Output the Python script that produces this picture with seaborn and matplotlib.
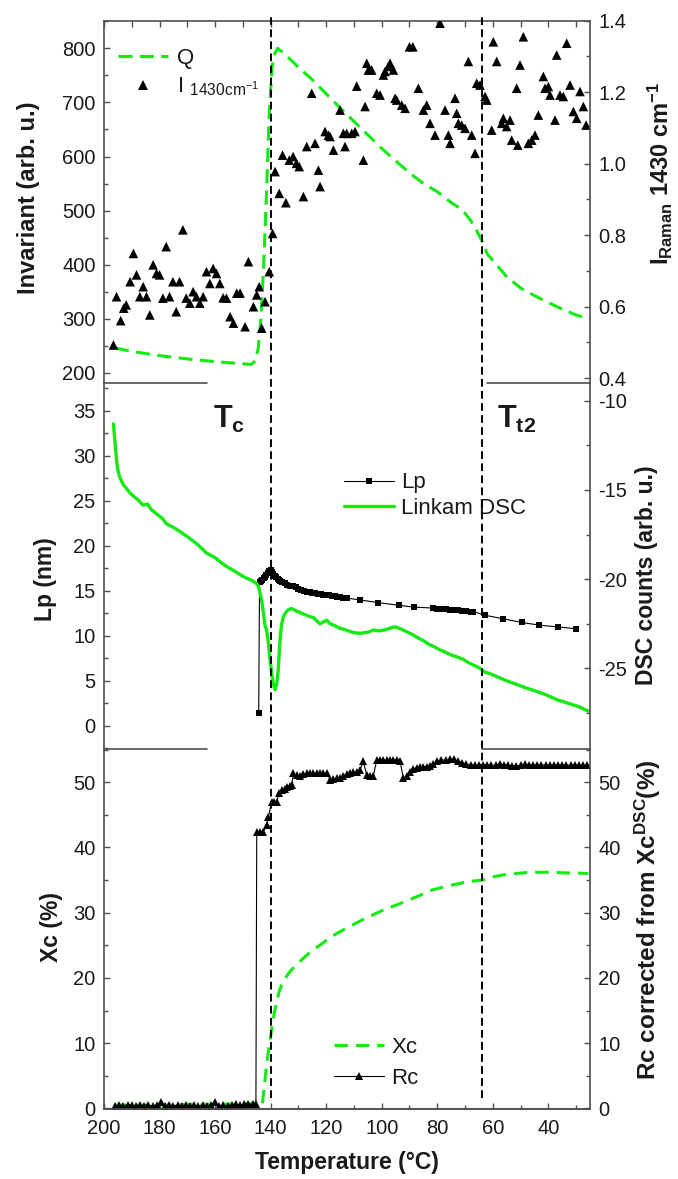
import matplotlib
matplotlib.use("Agg")
import matplotlib.pyplot as plt
import matplotlib.transforms as mtransforms
from matplotlib.lines import Line2D
from matplotlib.ticker import MultipleLocator, FormatStrFormatter
import seaborn as sns

# ---------------- data ----------------
# Panel 1: SAXS invariant Q (left axis) and Raman intensity at 1430 cm-1 (right axis)
q_temp = [196, 190, 180, 170, 160, 150, 147, 145.5, 144.5, 143.5,
          142.5, 141.5, 140.5, 139.5, 138.5, 137.5, 135, 130, 125, 120,
          115, 110, 105, 100, 95, 90, 85, 80, 75, 72,
          70, 68, 66, 64, 62, 60, 55, 50, 45, 40,
          35, 30, 25]
q_val = [246, 240, 232, 226, 221, 217, 216, 222, 245, 300,
         400, 530, 680, 765, 790, 800, 790, 765, 742, 716,
         690, 665, 640, 615, 592, 570, 550, 535, 515, 505,
         495, 482, 465, 445, 420, 408, 378, 357, 343, 330,
         318, 307, 300]

raman_temp = [196.6, 195.5, 194.0, 192.9, 192.0, 190.6, 189.4, 188.3, 187.1, 185.9,
              184.7, 183.5, 182.3, 181.1, 180.0, 178.8, 177.6, 176.4, 175.2, 174.0,
              172.8, 171.6, 170.4, 169.1, 167.9, 166.7, 165.5, 164.3, 163.1, 161.9,
              160.7, 159.5, 158.3, 157.1, 155.9, 154.6, 153.4, 152.2, 151.0, 149.2,
              148.0, 146.2, 145.0, 144.1, 143.2, 142.0, 140.5, 139.3, 138.4, 136.9,
              135.7, 134.5, 133.3, 131.9, 130.7, 129.7, 128.2, 127.0, 125.2, 124.0,
              122.8, 122.2, 120.4, 119.2, 118.6, 117.4, 115.0, 113.8, 113.2, 112.6,
              110.8, 109.6, 109.0, 106.6, 106.0, 105.4, 104.8, 103.6, 101.8, 100.6,
              99.4, 98.8, 97.6, 97.0, 95.8, 95.2, 94.6, 92.8, 91.6, 90.0,
              88.8, 86.8, 85.0, 83.8, 82.6, 80.8, 79.0, 77.2, 76.0, 75.4,
              73.6, 73.0, 72.4, 71.2, 70.0, 68.8, 67.6, 66.4, 65.8, 64.6,
              62.8, 62.2, 60.4, 59.8, 58.6, 56.8, 56.2, 55.0, 53.8, 53.2,
              51.4, 51.0, 50.2, 49.0, 47.2, 46.0, 44.8, 43.6, 41.8, 41.2,
              40.0, 39.4, 37.6, 37.0, 35.8, 34.6, 33.4, 32.2, 31.0, 29.8,
              28.6, 27.4, 26.4]
raman_val = [0.493, 0.628, 0.561, 0.596, 0.605, 0.670, 0.749, 0.689, 0.628, 0.656,
             0.628, 0.577, 0.717, 0.693, 0.689, 0.624, 0.768, 0.628, 0.670, 0.586,
             0.670, 0.815, 0.624, 0.610, 0.642, 0.628, 0.610, 0.628, 0.698, 0.665,
             0.707, 0.693, 0.665, 0.625, 0.624, 0.572, 0.554, 0.638, 0.638, 0.544,
             0.726, 0.600, 0.633, 0.656, 0.540, 0.614, 0.698, 0.805, 0.978, 0.917,
             1.024, 0.891, 1.010, 1.020, 1.001, 0.992, 0.908, 1.048, 1.197, 1.057,
             0.982, 0.936, 1.090, 1.080, 1.076, 1.038, 1.150, 1.085, 1.048, 1.085,
             1.085, 1.090, 1.217, 1.010, 1.160, 1.281, 1.262, 1.262, 1.197, 1.192,
             1.248, 1.258, 1.272, 1.281, 1.262, 1.183, 1.178, 1.164, 1.155, 1.327,
             1.327, 1.211, 1.150, 1.164, 1.113, 1.080, 1.393, 1.150, 1.080, 1.057,
             1.183, 1.141, 1.113, 1.108, 1.099, 1.286, 1.080, 1.029, 1.225, 1.220,
             1.188, 1.178, 1.094, 1.341, 1.286, 1.113, 1.127, 1.104, 1.122, 1.066,
             1.211, 1.052, 1.276, 1.355, 1.057, 1.066, 1.080, 1.136, 1.244, 1.211,
             1.216, 1.192, 1.122, 1.304, 1.192, 1.188, 1.337, 1.220, 1.146, 1.127,
             1.202, 1.160, 1.108]

# Panel 2: long period Lp (left axis) and Linkam DSC signal (right axis)
lp_temp = [144.3, 144.0, 143.5, 143.0, 142.5, 142.0, 141.5, 141.0, 140.5, 140.0,
           139.5, 139.0, 138.5, 138.0, 137.5, 137.0, 136.5, 136.0, 135.0, 134.0,
           133.0, 132.0, 131.0, 130.0, 129.0, 128.0, 127.0, 126.0, 125.0, 124.0,
           123.0, 122.0, 121.0, 120.0, 119.0, 118.0, 117.0, 116.0, 115.0, 114.0,
           112.5, 107.8, 101.2, 93.7, 88.4, 81.5, 80.0, 78.5, 77.0, 75.5,
           74.0, 72.5, 71.0, 69.5, 68.0, 67.0, 62.8, 56.2, 49.6, 43.2,
           36.6, 30.0]
lp_val = [1.4, 16.0, 16.1, 16.2, 16.4, 16.6, 16.8, 17.0, 17.2, 17.3,
          17.1, 16.9, 16.7, 16.5, 16.35, 16.2, 16.1, 16.0, 15.85, 15.7,
          15.6, 15.5, 15.4, 15.25, 15.1, 15.0, 14.9, 14.85, 14.8, 14.75,
          14.7, 14.65, 14.6, 14.55, 14.5, 14.45, 14.4, 14.35, 14.3, 14.25,
          14.2, 14.0, 13.7, 13.4, 13.2, 13.1, 13.0, 13.0, 12.95, 12.9,
          12.9, 12.85, 12.8, 12.8, 12.7, 12.7, 12.3, 11.9, 11.5, 11.2,
          11.0, 10.8]

dsc_temp = [196.6, 196.0, 195.5, 195.0, 194.3, 193.1, 192.0, 190.5, 189.0, 187.5,
            186.0, 184.3, 183.0, 181.0, 179.0, 177.5, 175.0, 172.5, 170.2, 168.0,
            166.0, 163.0, 160.0, 158.0, 155.8, 153.0, 150.5, 148.6, 146.5, 145.0,
            144.4, 143.8, 143.2, 142.6, 142.0, 141.4, 140.8, 140.2, 139.6, 139.0,
            138.4, 137.8, 137.2, 136.8, 136.4, 136.0, 135.4, 134.5, 133.5, 132.5,
            131.8, 130.5, 129.0, 127.5, 126.0, 124.6, 123.0, 122.2, 121.0, 119.8,
            118.6, 117.0, 115.0, 113.8, 112.0, 110.0, 107.8, 106.0, 104.5, 103.0,
            101.0, 99.0, 97.0, 95.2, 93.0, 91.0, 89.0, 87.4, 85.0, 83.0,
            81.0, 79.0, 77.0, 75.0, 73.0, 70.6, 68.5, 66.5, 64.6, 63.0,
            61.0, 58.0, 55.0, 51.4, 48.0, 44.0, 40.6, 37.0, 33.0, 29.0,
            25.6]
dsc_val = [-11.3, -12.4, -13.3, -13.9, -14.3, -14.7, -14.9, -15.2, -15.4, -15.6,
           -15.85, -15.8, -16.1, -16.35, -16.6, -16.9, -17.1, -17.35, -17.6, -17.85,
           -18.1, -18.55, -18.8, -19.05, -19.3, -19.55, -19.8, -19.95, -20.1, -20.25,
           -20.4, -20.8, -21.2, -21.9, -22.6, -22.9, -23.6, -24.5, -25.3, -25.9,
           -26.2, -25.9, -25.0, -23.8, -23.0, -22.5, -22.1, -21.85, -21.7, -21.65,
           -21.7, -21.8, -21.9, -22.0, -22.1, -22.15, -22.4, -22.5, -22.4, -22.3,
           -22.5, -22.6, -22.76, -22.8, -22.9, -23.0, -23.04, -23.0, -22.95, -22.85,
           -22.9, -22.85, -22.75, -22.67, -22.8, -22.95, -23.1, -23.25, -23.45, -23.65,
           -23.8, -23.97, -24.1, -24.25, -24.35, -24.5, -24.7, -24.85, -25.0, -25.2,
           -25.3, -25.5, -25.7, -25.9, -26.1, -26.3, -26.5, -26.75, -26.95, -27.15,
           -27.4]

# Panel 3: crystallinity Xc from DSC (left axis) and corrected Rc (right axis)
xc_temp = [196, 190, 180, 170, 160, 150, 146, 145, 144, 143,
           142.5, 142, 141.5, 141, 140.5, 140, 139.5, 139, 138.5, 138,
           137, 136, 135, 133, 131, 129, 127, 125, 123, 121,
           118.6, 115, 111, 107, 103, 99, 94.6, 90, 86, 82.6,
           78, 74, 70, 68.2, 63.8, 60, 56.2, 52, 46.6, 42,
           38, 34.6, 30, 25.6]
xc_val = [0.5, 0.5, 0.5, 0.6, 0.6, 0.7, 0.8, 0.6, 0.4, 0.5,
          2.5, 4.5, 6.5, 8.2, 9.6, 11.0, 12.5, 13.8, 15.0, 16.0,
          17.8, 19.0, 19.8, 21.0, 21.9, 22.7, 23.5, 24.2, 24.8, 25.4,
          26.2, 27.1, 28.0, 28.9, 29.7, 30.5, 31.2, 32.0, 32.7, 33.4,
          33.9, 34.3, 34.65, 34.8, 35.0, 35.5, 35.8, 36.0, 36.2, 36.2,
          36.2, 36.1, 36.1, 36.0]

rc_temp = [196.0, 194.5, 193.0, 191.5, 190.0, 188.5, 187.0, 185.5, 184.0, 182.5,
           181.0, 179.5, 178.0, 176.5, 175.0, 173.5, 172.0, 170.5, 169.0, 167.5,
           166.0, 164.5, 163.0, 161.5, 160.0, 158.5, 157.0, 155.5, 154.0, 152.5,
           151.0, 149.5, 148.0, 146.5, 145.3,
           145.0, 143.8, 142.6, 141.4, 140.8, 139.6, 138.8, 137.8, 137.0, 136.0,
           135.0, 134.2, 133.2, 132.4, 131.8, 130.6, 129.4, 128.2, 127.0, 125.8,
           124.6, 123.4, 122.2, 121.0, 119.8, 118.6, 117.4, 116.2, 115.0, 113.8,
           112.6, 111.4, 110.2, 109.0, 107.8, 106.6, 105.4, 104.2, 103.0, 101.8,
           100.6, 99.4, 98.2, 97.0, 95.8, 94.6, 93.4, 92.2, 91.0, 89.8,
           88.6, 87.4, 86.2, 85.0, 83.8, 82.6, 81.4,
           80.0, 78.5, 77.0, 75.5, 74.0, 72.5, 71.0, 69.5, 68.0, 66.5,
           65.0, 63.5, 62.0, 60.5, 59.0, 57.5, 56.0, 54.5, 53.0, 51.5,
           50.0, 48.5, 47.0, 45.5, 44.0, 42.5, 41.0, 39.5, 38.0, 36.5,
           35.0, 33.5, 32.0, 30.5, 29.0, 27.5, 26.0]
rc_val = [0.4, 0.5, 0.4, 0.5, 0.5, 0.4, 0.5, 0.4, 0.5, 0.4,
          0.5, 0.9, 0.4, 0.5, 0.4, 0.5, 0.4, 0.5, 0.4, 0.5,
          0.4, 0.5, 0.4, 0.5, 0.9, 0.4, 0.5, 0.4, 0.5, 0.6,
          0.5, 0.6, 0.7, 0.6, 0.7,
          42.4, 42.4, 42.4, 43.5, 44.7, 47.0, 47.0, 47.0, 48.3, 48.8,
          49.0, 49.3, 49.5, 49.6, 51.4, 51.1, 50.9, 51.2, 51.4, 51.4,
          51.4, 51.4, 51.4, 51.4, 51.4, 50.4, 50.5, 50.6, 50.6, 51.0,
          51.3, 51.4, 51.5, 51.6, 51.9, 53.2, 51.1, 51.0, 51.0, 53.4,
          53.4, 53.4, 53.4, 53.4, 53.4, 53.4, 53.3, 50.6, 51.0, 51.6,
          52.1, 52.2, 52.3, 52.4, 52.4, 52.5, 52.8,
          53.2, 53.4, 53.4, 53.5, 53.5, 53.3, 53.0, 52.8, 52.7, 52.6,
          52.6, 52.7, 52.7, 52.6, 52.6, 52.8, 52.7, 52.6, 52.5, 52.5,
          52.6, 52.8, 52.7, 52.6, 52.6, 52.7, 52.6, 52.6, 52.6, 52.7,
          52.6, 52.6, 52.6, 52.7, 52.6, 52.6, 52.6]

# Transition temperatures marked by vertical dashed lines
transition_temps = [140.0, 64.0]

# ---------------- style ----------------
sns.set_theme(style="ticks")
plt.rcParams["font.family"] = ["Liberation Sans", "DejaVu Sans"]
plt.rcParams["mathtext.fontset"] = "custom"
plt.rcParams["mathtext.rm"] = "Liberation Sans"
plt.rcParams["mathtext.bf"] = "Liberation Sans:bold"
plt.rcParams["mathtext.it"] = "Liberation Sans:italic"
plt.rcParams["mathtext.default"] = "regular"
plt.rcParams["axes.unicode_minus"] = False

GREEN = "#14ea14"
SPINE = "#505050"
TXT = "#1a1a1a"
TICK_FS = 14.5
LABEL_FS = 16.5

W, H = 678, 1179
fig = plt.figure(figsize=(W / 100, H / 100), dpi=100)


def rect(top, bottom):
    return [104 / W, 1 - bottom / H, 486 / W, (bottom - top) / H]


ax1 = fig.add_axes(rect(20.7, 383))
ax2 = fig.add_axes(rect(383, 749))
ax3 = fig.add_axes(rect(749, 1109))
ax1r = ax1.twinx()
ax2r = ax2.twinx()
ax3r = ax3.twinx()

# ---------------- panel 1 ----------------
sns.lineplot(x=q_temp, y=q_val, ax=ax1, sort=False, estimator=None,
             color=GREEN, linewidth=2.2)
ax1.lines[-1].set_dashes((4.6, 2.4))
sns.scatterplot(x=raman_temp, y=raman_val, ax=ax1r, marker="^", s=48,
                color="black", edgecolor="none", legend=False)

# ---------------- panel 2 ----------------
sns.lineplot(x=lp_temp, y=lp_val, ax=ax2, sort=False, estimator=None,
             color="black", linewidth=0.8, marker="s", markersize=4.6,
             markeredgewidth=0)
sns.lineplot(x=dsc_temp, y=dsc_val, ax=ax2r, sort=False, estimator=None,
             color=GREEN, linewidth=2.4)

# ---------------- panel 3 ----------------
sns.lineplot(x=xc_temp, y=xc_val, ax=ax3, sort=False, estimator=None,
             color=GREEN, linewidth=2.2)
ax3.lines[-1].set_dashes((4.4, 2.6))
sns.lineplot(x=rc_temp, y=rc_val, ax=ax3r, sort=False, estimator=None,
             color="black", linewidth=0.8, marker="^", markersize=6.2,
             markeredgewidth=0)

# ---------------- axes ----------------
for ax in (ax1, ax2, ax3, ax1r, ax2r, ax3r):
    ax.set_xlim(200, 25)
    ax.set_xlabel("")
    ax.set_ylabel("")
    for sp in ax.spines.values():
        sp.set_color(SPINE)
        sp.set_linewidth(1.2)

ax1.set_ylim(181.5, 851)
ax1r.set_ylim(0.3866, 1.4)
ax2.set_ylim(-2.56, 38.1)
ax2r.set_ylim(-29.52, -9.01)
ax3.set_ylim(-0.1, 55.1)
ax3r.set_ylim(-0.1, 55.1)


def style_y(ax, major, minor, side, fmt=None):
    ax.yaxis.set_major_locator(MultipleLocator(major))
    ax.yaxis.set_minor_locator(MultipleLocator(minor))
    if fmt:
        ax.yaxis.set_major_formatter(FormatStrFormatter(fmt))
    left = side == "left"
    ax.tick_params(axis="y", which="both", direction="in", left=left,
                   right=not left, labelleft=left, labelright=not left,
                   color=SPINE, labelcolor=TXT, labelsize=TICK_FS, pad=6,
                   width=1.0)
    ax.tick_params(axis="y", which="major", length=4.5)
    ax.tick_params(axis="y", which="minor", length=3)


style_y(ax1, 100, 50, "left")
style_y(ax1r, 0.2, 0.1, "right", "%.1f")
style_y(ax2, 5, 2.5, "left")
style_y(ax2r, 5, 2.5, "right")
style_y(ax3, 10, 5, "left")
style_y(ax3r, 10, 5, "right")

for ax in (ax1, ax2, ax3):
    ax.xaxis.set_major_locator(MultipleLocator(20))
    ax.xaxis.set_minor_locator(MultipleLocator(10))

ax1.tick_params(axis="x", which="both", direction="in", top=True, bottom=False,
                labeltop=False, labelbottom=False, color=SPINE, width=1.0, length=4)
ax2.tick_params(axis="x", which="both", top=False, bottom=False,
                labeltop=False, labelbottom=False)
ax3.tick_params(axis="x", which="both", direction="in", top=False, bottom=True,
                labelbottom=True, color=SPINE, labelcolor=TXT,
                labelsize=TICK_FS, width=1.0, pad=7)
ax3.tick_params(axis="x", which="major", length=4.5)
ax3.tick_params(axis="x", which="minor", length=3)

# frame: panels join through partial boundary lines
for ax in (ax1, ax1r):
    ax.spines["bottom"].set_visible(False)
for ax in (ax2, ax2r):
    ax.spines["top"].set_visible(False)
    ax.spines["bottom"].set_visible(False)
for ax in (ax3, ax3r):
    ax.spines["top"].set_visible(False)
for ax in (ax1r, ax2r, ax3r):
    ax.spines["left"].set_visible(False)
for ax in (ax1, ax2, ax3):
    ax.spines["right"].set_visible(False)
ax1r.spines["top"].set_visible(False)

for ax, segs in ((ax2, [(0, 0.212), (0.788, 1)]), (ax3, [(0, 0.212), (0.778, 1)])):
    for x0, x1 in segs:
        ax.add_line(Line2D([x0, x1], [1, 1], transform=ax.transAxes, color=SPINE,
                           lw=1.2, clip_on=False, zorder=5))

# ---------------- axis labels ----------------
lab = dict(fontweight="bold", color=TXT, va="center")
ax1.set_ylabel("Invariant (arb. u.)", fontsize=17, **lab)
ax1.yaxis.set_label_coords(-0.156, 0.51)
ax2.set_ylabel("Lp (nm)", fontsize=LABEL_FS, **lab)
ax2.yaxis.set_label_coords(-0.121, 0.465)
ax3.set_ylabel("Xc (%)", fontsize=LABEL_FS, **lab)
ax3.yaxis.set_label_coords(-0.107, 0.505)

ax1r.set_ylabel(r"$\mathbf{I}_{\mathbf{Raman}}$ 1430 cm$^{\mathbf{-1}}$",
                fontsize=17, **lab)
ax1r.yaxis.set_label_coords(1.144, 0.578)
ax2r.set_ylabel("DSC counts (arb. u.)", fontsize=LABEL_FS, **lab)
ax2r.yaxis.set_label_coords(1.117, 0.474)
ax3r.set_ylabel(r"Rc corrected from Xc$^{\mathbf{DSC}}$(%)", fontsize=17.5, **lab)
ax3r.yaxis.set_label_coords(1.119, 0.525)

ax3.set_xlabel("Temperature (°C)", fontsize=16.5, fontweight="bold", color=TXT)
ax3.xaxis.set_label_coords(0.5, -0.118)

# ---------------- transition markers ----------------
trans = mtransforms.blended_transform_factory(ax3.transData, fig.transFigure)
for t in transition_temps:
    fig.add_artist(Line2D([t, t], [0.0687, 0.9856], transform=trans,
                          color="black", lw=1.4, dashes=(4, 2.2), zorder=20))

ax2.text(0.224, 0.877, r"$\mathbf{T}_{\mathbf{c}}$", transform=ax2.transAxes,
         fontsize=22, color=TXT, ha="left", va="baseline")
ax2.text(0.808, 0.877, r"$\mathbf{T}_{\mathbf{t2}}$", transform=ax2.transAxes,
         fontsize=22, color=TXT, ha="left", va="baseline")

# ---------------- legends ----------------
leg_kw = dict(loc="upper left", frameon=False, fontsize=16, borderpad=0,
              borderaxespad=0, handlelength=2.25)

h_q = Line2D([], [], color=GREEN, lw=2.2, dashes=(4.6, 2.4))
h_i = Line2D([], [], color="black", marker="^", ls="none", markersize=7,
             markeredgewidth=0)
leg1 = ax1r.legend([h_q, h_i], ["Q", r"I $_{1430\mathrm{cm}^{-1}}$"],
                   bbox_to_anchor=(0.029, 0.925), handletextpad=0.4,
                   labelspacing=0.3, **leg_kw)
for t in leg1.get_texts():
    t.set_color(TXT)

h_lp = Line2D([], [], color="black", lw=0.8, marker="s", markersize=4.6,
              markeredgewidth=0)
h_dsc = Line2D([], [], color=GREEN, lw=2.4)
leg2 = ax2r.legend([h_lp, h_dsc], ["Lp", "Linkam DSC"],
                   bbox_to_anchor=(0.494, 0.756), handletextpad=0.3,
                   labelspacing=0.2, **leg_kw)
for t in leg2.get_texts():
    t.set_color(TXT)

h_xc = Line2D([], [], color=GREEN, lw=2.2, dashes=(4.4, 2.6))
h_rc = Line2D([], [], color="black", lw=0.8, marker="^", markersize=6.2,
              markeredgewidth=0)
leg3 = ax3r.legend([h_xc, h_rc], ["Xc", "Rc"],
                   bbox_to_anchor=(0.474, 0.200), handletextpad=0.3,
                   labelspacing=0.45, **leg_kw)
for t in leg3.get_texts():
    t.set_color(TXT)

fig.savefig("out.png", dpi=100)
